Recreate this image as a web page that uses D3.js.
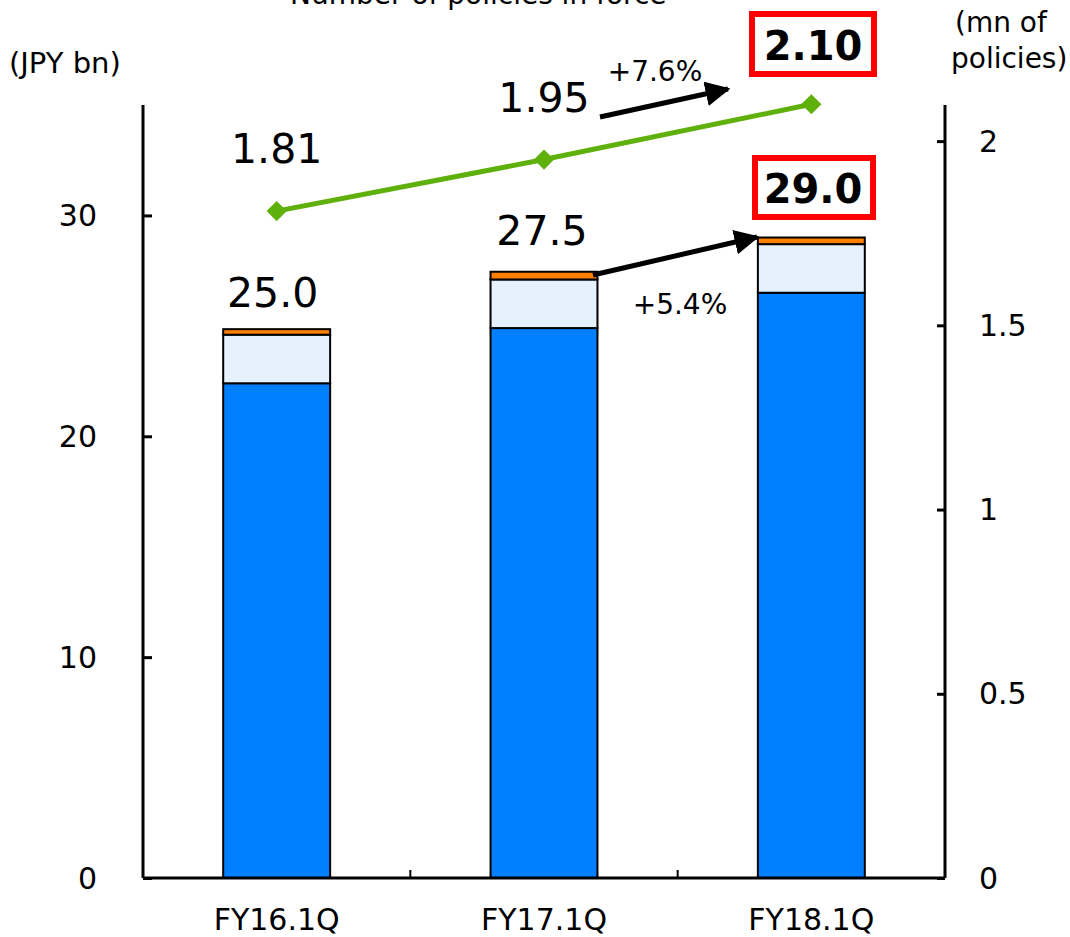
<!DOCTYPE html>
<html><head><meta charset="utf-8">
<script src="https://cdn.jsdelivr.net/npm/d3@7"></script>
<style>
body{margin:0;background:#fff;}
svg{display:block;font-family:"DejaVu Sans",Verdana,sans-serif;}
</style></head>
<body><svg id="c" width="1070" height="937"></svg>
<script>
const categories = ["FY16.1Q","FY17.1Q","FY18.1Q"];
const seriesBlue = [22.4, 24.9, 26.5];
const seriesLight = [2.2, 2.2, 2.2];
const seriesOrange = [0.25, 0.35, 0.3];
const totals = ["25.0","27.5","29.0"];
const policies = [1.81, 1.95, 2.10];
const policyLabels = ["1.81","1.95","2.10"];
const leftTicks = [0,10,20,30];
const rightTicks = [0,0.5,1,1.5,2];
const rightTickLabels = ["0","0.5","1","1.5","2"];

const svg = d3.select("#c");
const L=143, R=945, T=105, B=878;
const x = d3.scaleBand().domain(categories).range([L,R]).paddingInner(0.6).paddingOuter(0.3);
const xb = d3.scaleBand().domain(categories).range([L,R]);
const y = d3.scaleLinear().domain([0,35]).range([B,T]);
const y2 = d3.scaleLinear().domain([0,2.098]).range([B,T]);

// bars
const stacks = [
  {vals: seriesBlue, fill:"#0080ff"},
  {vals: seriesLight, fill:"#e6f1fe"},
  {vals: seriesOrange, fill:"#ff8000"}
];
categories.forEach((c,i)=>{
  let base=0;
  stacks.forEach(s=>{
    const v=s.vals[i];
    svg.append("rect").attr("x",x(c)).attr("width",x.bandwidth())
      .attr("y",y(base+v)).attr("height",y(base)-y(base+v))
      .attr("fill",s.fill).attr("stroke","#000").attr("stroke-width",2);
    base+=v;
  });
});

// axes
const gl = svg.append("g").attr("transform",`translate(${L},0)`)
  .call(d3.axisRight(y).tickValues(leftTicks).tickSize(9).tickFormat(""));
gl.select(".domain").attr("stroke-width",3).attr("d",`M0,${T}V${B}`);
gl.selectAll(".tick line").attr("stroke-width",3);
leftTicks.forEach(t=>{
  svg.append("text").attr("x",97).attr("y",y(t)).attr("dy","0.35em")
    .attr("text-anchor","end").attr("font-size",30).text(t);
});
const gr = svg.append("g").attr("transform",`translate(${R},0)`)
  .call(d3.axisLeft(y2).tickValues(rightTicks).tickSize(8).tickFormat(""));
gr.select(".domain").attr("stroke-width",3).attr("d",`M0,${T}V${B}`);
gr.selectAll(".tick line").attr("stroke-width",3);
rightTicks.forEach((t,i)=>{
  svg.append("text").attr("x",979).attr("y",y2(t)).attr("dy","0.35em")
    .attr("text-anchor","start").attr("font-size",30).text(rightTickLabels[i]);
});
const gb = svg.append("g").attr("transform",`translate(0,${B})`)
  .call(d3.axisTop(xb).tickSize(8).tickFormat(""));
gb.select(".domain").attr("stroke-width",3).attr("d",`M${L},0H${R}`);
gb.selectAll(".tick").attr("transform",d=>`translate(${xb(d)+xb.bandwidth()},0)`);
gb.selectAll(".tick line").attr("stroke-width",2);
gb.selectAll(".tick").filter(d=>d===categories[2]).remove();
categories.forEach(c=>{
  svg.append("text").attr("x",x(c)+x.bandwidth()/2).attr("y",930)
    .attr("text-anchor","middle").attr("font-size",30).text(c);
});

// line
const cx = c=>x(c)+x.bandwidth()/2;
svg.append("path").datum(policies)
  .attr("d",d3.line().x((d,i)=>cx(categories[i])).y(d=>y2(d)))
  .attr("fill","none").attr("stroke","#60b00c").attr("stroke-width",5);
policies.forEach((p,i)=>{
  svg.append("path").attr("d",d3.symbol(d3.symbolDiamond2,260)())
    .attr("transform",`translate(${cx(categories[i])},${y2(p)})`)
    .attr("fill","#60b00c");
});

// labels
function label(txt,xx,yy,size,bold){
  return svg.append("text").attr("x",xx).attr("y",yy).attr("text-anchor","middle")
    .attr("font-size",size).attr("font-weight",bold?"bold":"normal").text(txt);
}
label(policyLabels[0], cx(categories[0]), 163, 41);
label(policyLabels[1], cx(categories[1]), 112, 41);
label(totals[0], cx(categories[0])-4, 307, 41);
label(totals[1], cx(categories[1])-2, 245, 41);
// boxes
svg.append("rect").attr("x",752).attr("y",14).attr("width",122).attr("height",60)
  .attr("fill","#fff").attr("stroke","#ff0000").attr("stroke-width",6);
label(policyLabels[2], 813, 60, 40, true);
svg.append("rect").attr("x",755).attr("y",158).attr("width",118).attr("height",59)
  .attr("fill","#fff").attr("stroke","#ff0000").attr("stroke-width",6);
label(totals[2], 813, 203, 40, true);

label("+7.6%", 655, 81, 28);
label("+5.4%", 680, 314, 28);

// arrows
svg.append("defs").append("marker").attr("id","ah").attr("viewBox","0 0 10 10")
  .attr("refX",9).attr("refY",5).attr("markerWidth",5).attr("markerHeight",5)
  .attr("orient","auto").attr("markerUnits","strokeWidth")
  .append("path").attr("d","M0,0L10,5L0,10z").attr("fill","#000");
svg.append("line").attr("x1",600).attr("y1",117).attr("x2",728).attr("y2",89)
  .attr("stroke","#000").attr("stroke-width",5).attr("marker-end","url(#ah)");
svg.append("line").attr("x1",593).attr("y1",275).attr("x2",757).attr("y2",237)
  .attr("stroke","#000").attr("stroke-width",5).attr("marker-end","url(#ah)");

// unit labels
svg.append("text").attr("x",9).attr("y",73).attr("font-size",29).text("(JPY bn)");
svg.append("text").attr("x",955).attr("y",32).attr("font-size",28).text("(mn of");
svg.append("text").attr("x",951).attr("y",68).attr("font-size",28).text("policies)");
// cut-off legend text at top (partially outside, as in reference)
svg.append("text").attr("x",290).attr("y",4).attr("font-size",28).text("Number of policies in force");
</script></body></html>
